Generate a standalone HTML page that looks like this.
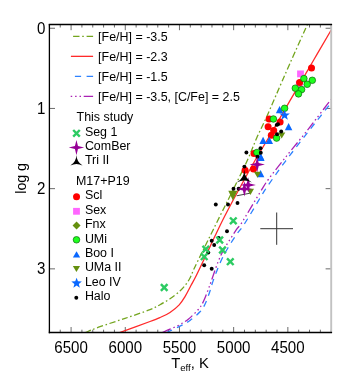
<!DOCTYPE html>
<html><head><meta charset="utf-8"><title>logg-Teff</title>
<style>
html,body{margin:0;padding:0;background:#fff;}
body{width:354px;height:383px;overflow:hidden;position:relative;font-family:"Liberation Sans",sans-serif;}
</style></head><body>
<svg width="354" height="383" viewBox="0 0 354 383" style="position:absolute;left:0;top:0;will-change:transform;opacity:0.999">
<defs><clipPath id="c"><rect x="49.4" y="24.6" width="281.8" height="308.0"/></clipPath></defs>
<rect width="100%" height="100%" fill="#fff"/>
<path d="M331.20 332.60 v-2.9 M331.20 24.60 v2.9 M320.36 332.60 v-2.9 M320.36 24.60 v2.9 M309.52 332.60 v-2.9 M309.52 24.60 v2.9 M298.68 332.60 v-2.9 M298.68 24.60 v2.9 M287.85 332.60 v-5.6 M287.85 24.60 v5.6 M277.01 332.60 v-2.9 M277.01 24.60 v2.9 M266.17 332.60 v-2.9 M266.17 24.60 v2.9 M255.33 332.60 v-2.9 M255.33 24.60 v2.9 M244.49 332.60 v-2.9 M244.49 24.60 v2.9 M233.65 332.60 v-5.6 M233.65 24.60 v5.6 M222.82 332.60 v-2.9 M222.82 24.60 v2.9 M211.98 332.60 v-2.9 M211.98 24.60 v2.9 M201.14 332.60 v-2.9 M201.14 24.60 v2.9 M190.30 332.60 v-2.9 M190.30 24.60 v2.9 M179.46 332.60 v-5.6 M179.46 24.60 v5.6 M168.62 332.60 v-2.9 M168.62 24.60 v2.9 M157.78 332.60 v-2.9 M157.78 24.60 v2.9 M146.95 332.60 v-2.9 M146.95 24.60 v2.9 M136.11 332.60 v-2.9 M136.11 24.60 v2.9 M125.27 332.60 v-5.6 M125.27 24.60 v5.6 M114.43 332.60 v-2.9 M114.43 24.60 v2.9 M103.59 332.60 v-2.9 M103.59 24.60 v2.9 M92.75 332.60 v-2.9 M92.75 24.60 v2.9 M81.92 332.60 v-2.9 M81.92 24.60 v2.9 M71.08 332.60 v-5.6 M71.08 24.60 v5.6 M60.24 332.60 v-2.9 M60.24 24.60 v2.9 M49.40 332.60 v-2.9 M49.40 24.60 v2.9 M49.40 28.25 h5.6 M331.20 28.25 h-5.6 M49.40 108.45 h5.6 M331.20 108.45 h-5.6 M49.40 188.65 h5.6 M331.20 188.65 h-5.6 M49.40 268.85 h5.6 M331.20 268.85 h-5.6" stroke="#3a3a3a" stroke-width="0.75" fill="none"/>
<g clip-path="url(#c)" fill="none" stroke-linecap="butt">
<path d="M85.20 332.60 C87.67 331.62 93.37 329.07 100.00 326.70 C106.63 324.33 116.67 321.25 125.00 318.40 C133.33 315.55 144.17 311.88 150.00 309.60 C155.83 307.32 156.67 306.50 160.00 304.70 C163.33 302.90 166.67 301.08 170.00 298.80 C173.33 296.52 177.37 293.38 180.00 291.00 C182.63 288.62 184.13 286.67 185.80 284.50 C187.47 282.33 188.58 280.72 190.00 278.00 C191.42 275.28 191.93 273.20 194.30 268.20 C196.67 263.20 199.90 256.73 204.20 248.00 C208.50 239.27 215.30 225.47 220.10 215.80 C224.90 206.13 228.43 199.30 233.00 190.00 C237.57 180.70 243.55 168.67 247.50 160.00 C251.45 151.33 253.63 144.92 256.70 138.00 C259.77 131.08 262.70 125.57 265.90 118.50 C269.10 111.43 271.88 104.80 275.90 95.60 C279.92 86.40 284.75 75.13 290.00 63.30 C295.25 51.47 304.50 31.05 307.40 24.60" stroke="#73a51e" stroke-width="1.3" stroke-dasharray="6.2 2.6 1.6 2.6"/>
<path d="M119.60 332.60 C124.67 330.75 143.27 324.02 150.00 321.50 C156.73 318.98 156.67 319.00 160.00 317.50 C163.33 316.00 166.80 314.60 170.00 312.50 C173.20 310.40 176.70 307.55 179.20 304.90 C181.70 302.25 183.07 299.78 185.00 296.60 C186.93 293.42 188.92 289.32 190.80 285.80 C192.68 282.28 193.87 280.38 196.30 275.50 C198.73 270.62 202.28 263.08 205.40 256.50 C208.52 249.92 211.68 242.92 215.00 236.00 C218.32 229.08 221.13 223.08 225.30 215.00 C229.47 206.92 235.05 196.58 240.00 187.50 C244.95 178.42 250.12 169.00 255.00 160.50 C259.88 152.00 263.47 146.47 269.30 136.50 C275.13 126.53 282.60 113.45 290.00 100.70 C297.40 87.95 306.83 71.78 313.70 60.00 C320.57 48.22 328.28 35.00 331.20 30.00" stroke="#ff2a2a" stroke-width="1.3"/>
<path d="M166.40 332.60 C168.67 331.53 176.07 328.22 180.00 326.20 C183.93 324.18 186.67 322.90 190.00 320.50 C193.33 318.10 197.50 314.52 200.00 311.80 C202.50 309.08 203.42 307.42 205.00 304.20 C206.58 300.98 208.13 296.43 209.50 292.50 C210.87 288.57 211.33 285.77 213.20 280.60 C215.07 275.43 218.35 266.77 220.70 261.50 C223.05 256.23 224.67 253.50 227.30 249.00 C229.93 244.50 233.55 238.83 236.50 234.50 C239.45 230.17 240.67 229.75 245.00 223.00 C249.33 216.25 258.62 200.33 262.50 194.00 C266.38 187.67 264.55 190.37 268.30 185.00 C272.05 179.63 278.48 170.50 285.00 161.80 C291.52 153.10 301.57 140.30 307.40 132.80 C313.23 125.30 316.03 121.82 320.00 116.80 C323.97 111.78 329.33 105.05 331.20 102.70" stroke="#2e82ff" stroke-width="1.3" stroke-dasharray="6.2 5.4"/>
<path d="M162.20 332.60 C163.50 332.03 167.17 330.47 170.00 329.20 C172.83 327.93 176.15 326.67 179.20 325.00 C182.25 323.33 185.12 321.78 188.30 319.20 C191.48 316.62 195.80 312.40 198.30 309.50 C200.80 306.60 201.63 305.17 203.30 301.80 C204.97 298.43 206.87 293.05 208.30 289.30 C209.73 285.55 210.22 284.02 211.90 279.30 C213.58 274.58 216.22 266.30 218.40 261.00 C220.58 255.70 221.95 252.80 225.00 247.50 C228.05 242.20 233.92 233.32 236.70 229.20 C239.48 225.08 237.82 228.92 241.70 222.80 C245.58 216.68 255.57 199.72 260.00 192.50 C264.43 185.28 264.13 185.25 268.30 179.50 C272.47 173.75 279.23 165.27 285.00 158.00 C290.77 150.73 298.82 140.97 302.90 135.90 C306.98 130.83 307.32 130.40 309.50 127.60 C311.68 124.80 312.38 123.82 316.00 119.10 C319.62 114.38 328.67 102.60 331.20 99.30" stroke="#aa22b4" stroke-width="1.3" stroke-dasharray="9.4 2.9 1.5 2.9 1.5 2.9 1.5 2.9"/>
</g>
<path d="M331.20 24.60 V332.60" stroke="#c2c2c2" stroke-width="1.9" fill="none"/>
<path d="M49.40 24.00 V333.30" stroke="#000" stroke-width="1.3" fill="none"/>
<path d="M48.80 24.60 H332.10" stroke="#000" stroke-width="1.5" fill="none"/>
<path d="M48.80 332.60 H332.10" stroke="#000" stroke-width="1.5" fill="none"/>
<rect x="297.10" y="70.50" width="6.8" height="6.8" fill="#ff66ff"/>
<rect x="295.90" y="80.80" width="6.8" height="6.8" fill="#ff66ff"/>
<circle cx="311.50" cy="68.10" r="3.5" fill="#ff0000"/>
<circle cx="299.60" cy="82.60" r="3.5" fill="#ff0000"/>
<circle cx="269.10" cy="118.90" r="3.5" fill="#ff0000"/>
<circle cx="280.10" cy="122.10" r="3.5" fill="#ff0000"/>
<circle cx="268.10" cy="126.70" r="3.5" fill="#ff0000"/>
<circle cx="273.70" cy="130.40" r="3.5" fill="#ff0000"/>
<circle cx="271.30" cy="135.30" r="3.5" fill="#ff0000"/>
<circle cx="254.00" cy="153.50" r="3.5" fill="#ff0000"/>
<circle cx="245.10" cy="170.30" r="3.5" fill="#ff0000"/>
<circle cx="253.50" cy="169.10" r="3.5" fill="#ff0000"/>
<polygon points="279.60,106.05 283.35,113.35 275.85,113.35" fill="#0a68ff"/>
<polygon points="288.60,122.95 292.35,130.25 284.85,130.25" fill="#0a68ff"/>
<polygon points="263.10,136.65 266.85,143.95 259.35,143.95" fill="#0a68ff"/>
<polygon points="269.30,136.65 273.05,143.95 265.55,143.95" fill="#0a68ff"/>
<polygon points="260.80,153.65 264.55,160.95 257.05,160.95" fill="#0a68ff"/>
<polygon points="260.60,153.05 264.35,160.35 256.85,160.35" fill="#0a68ff"/>
<polygon points="260.60,169.95 264.35,177.25 256.85,177.25" fill="#0a68ff"/>
<circle cx="303.90" cy="78.60" r="3.3" fill="#1fff1f" stroke="#0a6a0a" stroke-width="0.7"/>
<circle cx="312.30" cy="80.30" r="3.3" fill="#1fff1f" stroke="#0a6a0a" stroke-width="0.7"/>
<circle cx="307.20" cy="84.30" r="3.3" fill="#1fff1f" stroke="#0a6a0a" stroke-width="0.7"/>
<circle cx="295.30" cy="88.20" r="3.3" fill="#1fff1f" stroke="#0a6a0a" stroke-width="0.7"/>
<circle cx="301.60" cy="89.60" r="3.3" fill="#1fff1f" stroke="#0a6a0a" stroke-width="0.7"/>
<circle cx="298.50" cy="93.90" r="3.3" fill="#1fff1f" stroke="#0a6a0a" stroke-width="0.7"/>
<circle cx="284.60" cy="108.30" r="3.3" fill="#1fff1f" stroke="#0a6a0a" stroke-width="0.7"/>
<circle cx="273.40" cy="119.00" r="3.3" fill="#1fff1f" stroke="#0a6a0a" stroke-width="0.7"/>
<circle cx="276.60" cy="138.10" r="3.3" fill="#1fff1f" stroke="#0a6a0a" stroke-width="0.7"/>
<circle cx="256.90" cy="152.50" r="3.3" fill="#1fff1f" stroke="#0a6a0a" stroke-width="0.7"/>
<polygon points="281.70,138.50 285.30,132.50 278.10,132.50" fill="#65900f"/>
<polygon points="257.50,177.80 261.10,171.80 253.90,171.80" fill="#65900f"/>
<polygon points="284.60,109.80 285.95,113.44 289.83,113.60 286.79,116.01 287.83,119.75 284.60,117.60 281.37,119.75 282.41,116.01 279.37,113.60 283.25,113.44" fill="#0a68ff"/>
<path d="M236.7 195.8 L250 193.2" stroke="#111" stroke-width="0.8" fill="none"/>
<polygon points="228.3,190.8 237.4,190.8 232.9,200.6" fill="#65900f"/>
<polygon points="250.40,195.10 254.00,188.70 246.80,188.70" fill="#65900f"/>
<circle cx="276.70" cy="124.90" r="1.95" fill="#000"/>
<circle cx="278.00" cy="124.30" r="1.95" fill="#000"/>
<circle cx="281.20" cy="131.50" r="1.95" fill="#000"/>
<circle cx="277.00" cy="134.30" r="1.95" fill="#000"/>
<circle cx="260.50" cy="148.20" r="1.95" fill="#000"/>
<circle cx="260.80" cy="152.80" r="1.95" fill="#000"/>
<circle cx="257.40" cy="156.70" r="1.95" fill="#000"/>
<circle cx="246.40" cy="152.50" r="1.95" fill="#000"/>
<circle cx="244.40" cy="166.60" r="1.95" fill="#000"/>
<circle cx="233.50" cy="188.70" r="1.95" fill="#000"/>
<circle cx="238.60" cy="188.70" r="1.95" fill="#000"/>
<circle cx="215.80" cy="204.50" r="1.95" fill="#000"/>
<circle cx="228.00" cy="204.50" r="1.95" fill="#000"/>
<circle cx="237.50" cy="203.00" r="1.95" fill="#000"/>
<circle cx="227.00" cy="231.20" r="1.95" fill="#000"/>
<circle cx="218.70" cy="238.00" r="1.95" fill="#000"/>
<circle cx="211.70" cy="240.80" r="1.95" fill="#000"/>
<circle cx="214.20" cy="245.00" r="1.95" fill="#000"/>
<circle cx="208.30" cy="252.50" r="1.95" fill="#000"/>
<circle cx="204.20" cy="265.30" r="1.95" fill="#000"/>
<circle cx="211.70" cy="268.70" r="1.95" fill="#000"/>
<path d="M160.90 284.20 l6.60 6.60 M160.90 290.80 l6.60 -6.60" stroke="#2ccb62" stroke-width="2.45" fill="none"/>
<path d="M230.00 217.50 l6.60 6.60 M230.00 224.10 l6.60 -6.60" stroke="#2ccb62" stroke-width="2.45" fill="none"/>
<path d="M216.40 236.70 l6.60 6.60 M216.40 243.30 l6.60 -6.60" stroke="#2ccb62" stroke-width="2.45" fill="none"/>
<path d="M202.50 245.90 l6.60 6.60 M202.50 252.50 l6.60 -6.60" stroke="#2ccb62" stroke-width="2.45" fill="none"/>
<path d="M219.20 246.70 l6.60 6.60 M219.20 253.30 l6.60 -6.60" stroke="#2ccb62" stroke-width="2.45" fill="none"/>
<path d="M200.90 253.40 l6.60 6.60 M200.90 260.00 l6.60 -6.60" stroke="#2ccb62" stroke-width="2.45" fill="none"/>
<path d="M227.00 258.40 l6.60 6.60 M227.00 265.00 l6.60 -6.60" stroke="#2ccb62" stroke-width="2.45" fill="none"/>
<polygon points="257.20,156.90 258.72,163.08 264.90,164.60 258.72,166.12 257.20,172.30 255.68,166.12 249.50,164.60 255.68,163.08" fill="#960096"/>
<polygon points="248.20,177.20 249.72,183.38 255.90,184.90 249.72,186.42 248.20,192.60 246.68,186.42 240.50,184.90 246.68,183.38" fill="#960096"/>
<polygon points="244.40,181.20 245.92,187.38 252.10,188.90 245.92,190.42 244.40,196.60 242.88,190.42 236.70,188.90 242.88,187.38" fill="#960096"/>
<path d="M244.30 169.40 Q244.57 178.04 251.92 182.60 Q244.30 178.51 236.68 182.60 Q244.03 178.04 244.30 169.40Z" fill="#000"/>
<path d="M260.3 228.7 H293 M276.7 212.5 V244.8" stroke="#333" stroke-width="1" fill="none"/>
<path d="M73.1 36.4 H93.1" stroke="#73a51e" stroke-width="1.25" stroke-dasharray="6.4 2.7 1.6 2.8 20" fill="none"/>
<path d="M70.9 56.35 H93.1" stroke="#ff2a2a" stroke-width="1.3" fill="none"/>
<path d="M74.9 76.3 H93.1" stroke="#2e82ff" stroke-width="1.25" stroke-dasharray="6.2 5.5 20" fill="none"/>
<path d="M70.7 96.4 H93.1" stroke="#aa22b4" stroke-width="1.25" stroke-dasharray="1.5 2.9 1.5 2.9 1.5 2.7 20" fill="none"/>
<path d="M73.20 130.00 l6.60 6.60 M73.20 136.60 l6.60 -6.60" stroke="#2ccb62" stroke-width="2.45" fill="none"/>
<polygon points="76.45,139.90 77.97,146.08 84.15,147.60 77.97,149.12 76.45,155.30 74.93,149.12 68.75,147.60 74.93,146.08" fill="#960096"/>
<path d="M76.45 155.00 Q76.67 161.88 82.51 165.50 Q76.45 162.25 70.39 165.50 Q76.23 161.88 76.45 155.00Z" fill="#000"/>
<circle cx="76.55" cy="196.85" r="3.5" fill="#ff0000"/>
<rect x="73.10" y="207.90" width="6.8" height="6.8" fill="#ff66ff"/>
<polygon points="76.55,221.45 80.55,225.45 76.55,229.45 72.55,225.45" fill="#65900f"/>
<circle cx="76.50" cy="239.80" r="3.3" fill="#1fff1f" stroke="#0a6a0a" stroke-width="0.7"/>
<polygon points="76.55,251.20 80.20,257.60 72.90,257.60" fill="#0a68ff"/>
<polygon points="76.45,272.10 80.05,266.10 72.85,266.10" fill="#65900f"/>
<polygon points="76.60,277.70 77.95,281.34 81.83,281.50 78.79,283.91 79.83,287.65 76.60,285.50 73.37,287.65 74.41,283.91 71.37,281.50 75.25,281.34" fill="#0a68ff"/>
<circle cx="76.30" cy="297.80" r="1.95" fill="#000"/>
<g font-family="'Liberation Sans', sans-serif" fill="#000">
<text x="98.10" y="41.30" font-size="12.45" text-anchor="start" >[Fe/H] = -3.5</text>
<text x="98.10" y="61.13" font-size="12.45" text-anchor="start" >[Fe/H] = -2.3</text>
<text x="98.10" y="80.96" font-size="12.45" text-anchor="start" >[Fe/H] = -1.5</text>
<text x="98.10" y="100.79" font-size="12.45" text-anchor="start" >[Fe/H] = -3.5, [C/Fe] = 2.5</text>
<text x="76.60" y="121.20" font-size="12.45" text-anchor="start" >This study</text>
<text x="84.90" y="135.60" font-size="12.45" text-anchor="start" >Seg 1</text>
<text x="84.90" y="150.00" font-size="12.45" text-anchor="start" >ComBer</text>
<text x="84.90" y="164.40" font-size="12.45" text-anchor="start" >Tri II</text>
<text x="76.00" y="184.90" font-size="12.45" text-anchor="start" >M17+P19</text>
<text x="84.90" y="199.30" font-size="12.45" text-anchor="start" >Scl</text>
<text x="84.90" y="213.70" font-size="12.45" text-anchor="start" >Sex</text>
<text x="84.90" y="228.10" font-size="12.45" text-anchor="start" >Fnx</text>
<text x="84.90" y="242.50" font-size="12.45" text-anchor="start" >UMi</text>
<text x="84.90" y="256.90" font-size="12.45" text-anchor="start" >Boo I</text>
<text x="84.90" y="271.30" font-size="12.45" text-anchor="start" >UMa II</text>
<text x="84.90" y="285.70" font-size="12.45" text-anchor="start" >Leo IV</text>
<text x="84.90" y="300.10" font-size="12.45" text-anchor="start" >Halo</text>
<text transform="translate(71.08,352.5) scale(1,1.06)" font-size="15.10" text-anchor="middle">6500</text>
<text transform="translate(125.27,352.5) scale(1,1.06)" font-size="15.10" text-anchor="middle">6000</text>
<text transform="translate(179.46,352.5) scale(1,1.06)" font-size="15.10" text-anchor="middle">5500</text>
<text transform="translate(233.65,352.5) scale(1,1.06)" font-size="15.10" text-anchor="middle">5000</text>
<text transform="translate(287.85,352.5) scale(1,1.06)" font-size="15.10" text-anchor="middle">4500</text>
<text transform="translate(45.3,33.90) scale(1,1.06)" font-size="15.10" text-anchor="end">0</text>
<text transform="translate(45.3,114.00) scale(1,1.06)" font-size="15.10" text-anchor="end">1</text>
<text transform="translate(45.3,194.10) scale(1,1.06)" font-size="15.10" text-anchor="end">2</text>
<text transform="translate(45.3,274.20) scale(1,1.06)" font-size="15.10" text-anchor="end">3</text>
<text x="171.2" y="367.6" font-size="14.8">T<tspan font-size="9.6" dy="3.7">eff</tspan><tspan dy="-3.7">, K</tspan></text>
<text transform="translate(25.5,178.4) rotate(-90)" font-size="14.2" text-anchor="middle">log g</text>
</g>
</svg>
</body></html>
